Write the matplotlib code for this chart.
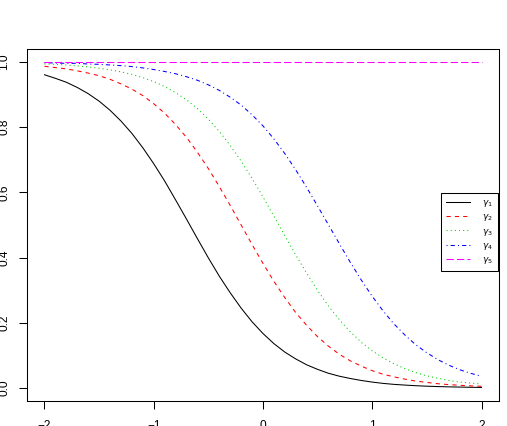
import numpy as np
import matplotlib
matplotlib.use("Agg")
import matplotlib.pyplot as plt

plt.rcParams['font.family'] = ['Liberation Sans', 'DejaVu Sans']

# x grid shared by all curves (step 0.1)
x = [-2.0, -1.9, -1.8, -1.7, -1.6, -1.5, -1.4, -1.3, -1.2, -1.1, -1.0,
     -0.9, -0.8, -0.7, -0.6, -0.5, -0.4, -0.3, -0.2, -0.1, 0.0,
     0.1, 0.2, 0.3, 0.4, 0.5, 0.6, 0.7, 0.8, 0.9, 1.0,
     1.1, 1.2, 1.3, 1.4, 1.5, 1.6, 1.7, 1.8, 1.9, 2.0]

gamma1 = [0.961, 0.950, 0.938, 0.922, 0.903, 0.880, 0.852, 0.819, 0.781, 0.737, 0.688,
          0.635, 0.577, 0.518, 0.458, 0.399, 0.343, 0.292, 0.245, 0.203, 0.167,
          0.136, 0.110, 0.089, 0.071, 0.057, 0.045, 0.036, 0.029, 0.023, 0.018,
          0.014, 0.011, 0.0088, 0.0069, 0.0054, 0.0043, 0.0034, 0.0027, 0.0021, 0.0016]
gamma2 = [0.987, 0.983, 0.979, 0.973, 0.966, 0.958, 0.947, 0.933, 0.917, 0.897, 0.872,
          0.843, 0.808, 0.769, 0.723, 0.673, 0.618, 0.560, 0.500, 0.440, 0.382,
          0.327, 0.277, 0.231, 0.192, 0.157, 0.128, 0.103, 0.083, 0.067, 0.053,
          0.042, 0.034, 0.027, 0.021, 0.017, 0.013, 0.0104, 0.0082, 0.0064, 0.0051]
gamma3 = [0.994, 0.993, 0.991, 0.988, 0.985, 0.981, 0.976, 0.970, 0.962, 0.952, 0.940,
          0.925, 0.906, 0.884, 0.857, 0.825, 0.787, 0.744, 0.696, 0.643, 0.586,
          0.527, 0.467, 0.408, 0.352, 0.299, 0.251, 0.209, 0.172, 0.140, 0.114,
          0.092, 0.074, 0.059, 0.047, 0.037, 0.030, 0.023, 0.018, 0.015, 0.012]
gamma4 = [0.998, 0.997, 0.996, 0.996, 0.994, 0.993, 0.991, 0.989, 0.986, 0.982, 0.977,
          0.971, 0.964, 0.955, 0.944, 0.930, 0.913, 0.892, 0.868, 0.838, 0.804,
          0.764, 0.719, 0.669, 0.615, 0.558, 0.500, 0.442, 0.385, 0.331, 0.281,
          0.236, 0.196, 0.162, 0.132, 0.108, 0.087, 0.070, 0.056, 0.045, 0.036]
gamma5 = [1.0] * len(x)

series = [gamma1, gamma2, gamma3, gamma4, gamma5]
labels = [r'$\gamma_1$', r'$\gamma_2$', r'$\gamma_3$', r'$\gamma_4$', r'$\gamma_5$']
colors = ['black', '#FF0000', '#00CD00', '#0000FF', '#FF00FF']
styles = ['-', (0, (4, 4)), (0, (1, 3)), (0, (1, 3, 4, 3)), (0, (7, 3))]

fig = plt.figure(figsize=(5.07, 4.26), dpi=100)
W, H = 507, 426
ax = fig.add_axes([27 / W, 1 - 401 / H, 472 / W, 352 / H])

for ys, lab, c, ls in zip(series, labels, colors, styles):
    ax.plot(x, ys, color=c, linestyle=ls, linewidth=0.75, label=lab)

ax.set_xlim(-2.16, 2.16)
ax.set_ylim(-0.04, 1.04)
ax.set_xticks([-2, -1, 0, 1, 2])
ax.set_yticks([0.0, 0.2, 0.4, 0.6, 0.8, 1.0])
ax.set_yticklabels(['0.0', '0.2', '0.4', '0.6', '0.8', '1.0'], rotation=90, va='center')
ax.tick_params(axis='both', direction='out', length=5.5, width=0.75, labelsize=8.6,
               colors='black')
ax.tick_params(axis='x', pad=8)
ax.tick_params(axis='y', pad=6.5)
for s in ax.spines.values():
    s.set_linewidth(0.75)

leg = ax.legend(loc='center right', bbox_to_anchor=(0.998, 0.48), fontsize=6.5,
                frameon=True, fancybox=False, edgecolor='black', framealpha=1,
                handlelength=2.6, labelspacing=0.35, borderpad=0.6, handletextpad=1.3,
                borderaxespad=0)
leg.get_frame().set_linewidth(0.75)

fig.savefig('out.png', dpi=100)
